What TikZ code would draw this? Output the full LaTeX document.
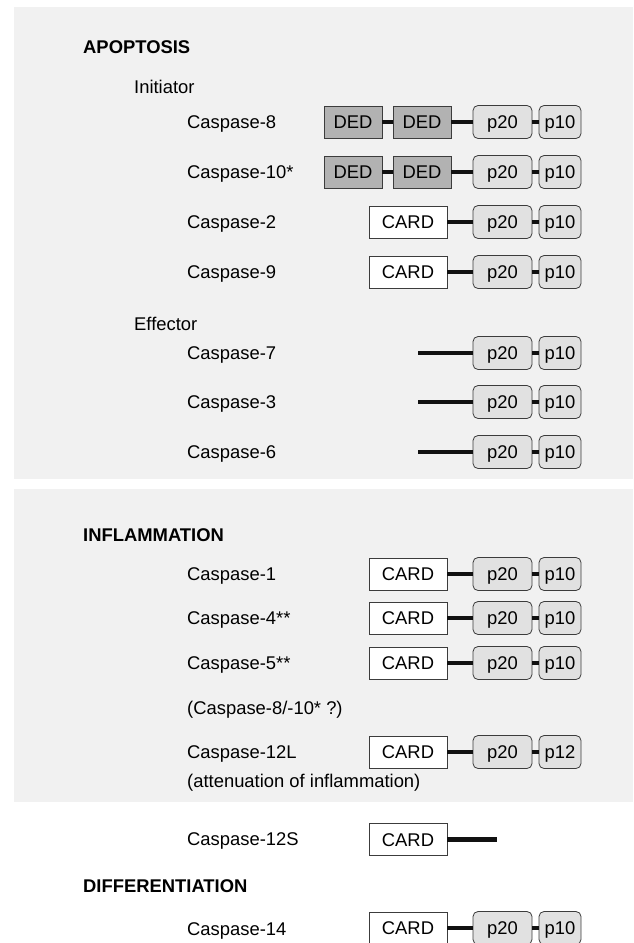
\documentclass[tikz,border=0pt]{standalone}
\usepackage{fontspec}
\setmainfont{Liberation Sans}
\definecolor{panelbg}{RGB}{241,241,241}
\definecolor{dedfill}{RGB}{178,178,178}
\definecolor{pfill}{RGB}{225,225,225}
\definecolor{edge}{RGB}{60,60,60}
\definecolor{linkc}{RGB}{17,17,17}
\newcommand{\pPair}[3]{%
  \node[pbig] (#1p20) at (502.5,#2) {p20};
  \node[psmall] (#1p10) at (560,#2) {#3};
  \draw[link] (#1p20.east) -- (#1p10.west);}
\newcommand{\cardBox}[2]{\node[cardbox] (#1card) at (408,#2) {CARD};}
\tikzset{
  txt/.style={anchor=base west, inner sep=0pt, font=\fontsize{18.4}{22}\selectfont},
  hdr/.style={txt, font=\fontsize{18.4}{22}\selectfont\bfseries},
  dom/.style={draw=edge, line width=0.8pt, inner sep=0pt, minimum height=32pt,
              text height=13.2pt, text depth=0pt, font=\fontsize{18.4}{22}\selectfont},
  dedbox/.style={dom, fill=dedfill, minimum width=58pt},
  cardbox/.style={dom, fill=white, minimum width=78pt},
  pbig/.style={dom, fill=pfill, rounded corners=5pt, minimum width=59pt, minimum height=33pt},
  psmall/.style={dom, fill=pfill, rounded corners=5pt, minimum width=42pt, minimum height=33pt},
  link/.style={draw=linkc, line width=4.5pt},
}
\begin{document}
\begin{tikzpicture}[x=1pt,y=-1pt]
\useasboundingbox (0,0) rectangle (633,943);
\fill[panelbg] (14,7) rectangle (633,479);
\fill[panelbg] (14,489) rectangle (633,802);

% APOPTOSIS
\node[hdr] (apo) at (83,53.6) {APOPTOSIS};
\node[txt] (init) at (134,93.6) {Initiator};
\node[txt] (l8) at (187,128.6) {Caspase-8};
\node[txt] (l10) at (187,178.6) {Caspase-10*};
\node[txt] (l2) at (187,228.6) {Caspase-2};
\node[txt] (l9) at (187,278.6) {Caspase-9};
\node[txt] (eff) at (134,330.6) {Effector};
\node[txt] (l7) at (187,359.6) {Caspase-7};
\node[txt] (l3) at (187,408.6) {Caspase-3};
\node[txt] (l6) at (187,458.6) {Caspase-6};

% Caspase-8
\node[dedbox] (c8d1) at (353,122) {DED};
\node[dedbox] (c8d2) at (422,122) {DED};
\pPair{c8}{122}{p10}
\draw[link] (c8d1.east) -- (c8d2.west);
\draw[link] (c8d2.east) -- (c8p20.west);
% Caspase-10
\node[dedbox] (c10d1) at (353,172) {DED};
\node[dedbox] (c10d2) at (422,172) {DED};
\pPair{c10}{172}{p10}
\draw[link] (c10d1.east) -- (c10d2.west);
\draw[link] (c10d2.east) -- (c10p20.west);
% Caspase-2
\cardBox{c2}{222}
\pPair{c2}{222}{p10}
\draw[link] (c2card.east) -- (c2p20.west);
% Caspase-9
\cardBox{c9}{272}
\pPair{c9}{272}{p10}
\draw[link] (c9card.east) -- (c9p20.west);
% Effectors
\coordinate (c7s) at (418,353);
\pPair{c7}{353}{p10}
\draw[link] (c7s) -- (c7p20.west);
\coordinate (c3s) at (418,402);
\pPair{c3}{402}{p10}
\draw[link] (c3s) -- (c3p20.west);
\coordinate (c6s) at (418,452);
\pPair{c6}{452}{p10}
\draw[link] (c6s) -- (c6p20.west);

% INFLAMMATION
\node[hdr] (infl) at (83,541.6) {INFLAMMATION};
\node[txt] (l1) at (187,580.6) {Caspase-1};
\node[txt] (l4) at (187,624.6) {Caspase-4**};
\node[txt] (l5) at (187,669.6) {Caspase-5**};
\node[txt] (l810) at (187,714.6) {(Caspase-8/-10* ?)};
\node[txt] (l12L) at (187,758.6) {Caspase-12L};
\node[txt] (att) at (187,787.6) {(attenuation of inflammation)};

\cardBox{c1}{574}
\pPair{c1}{574}{p10}
\draw[link] (c1card.east) -- (c1p20.west);
\cardBox{c4}{618}
\pPair{c4}{618}{p10}
\draw[link] (c4card.east) -- (c4p20.west);
\cardBox{c5}{663}
\pPair{c5}{663}{p10}
\draw[link] (c5card.east) -- (c5p20.west);
\cardBox{c12L}{752}
\pPair{c12L}{752}{p12}
\draw[link] (c12Lcard.east) -- (c12Lp20.west);

% Caspase-12S
\node[txt] (l12S) at (187,845.6) {Caspase-12S};
\cardBox{c12S}{839.5}
\coordinate (c12Se) at (497,839.5);
\draw[link] (c12Scard.east) -- (c12Se);

% DIFFERENTIATION
\node[hdr] (diff) at (83,892.6) {DIFFERENTIATION};
\node[txt] (l14) at (187,935.6) {Caspase-14};
\cardBox{c14}{928}
\pPair{c14}{928}{p10}
\draw[link] (c14card.east) -- (c14p20.west);
\end{tikzpicture}
\end{document}
